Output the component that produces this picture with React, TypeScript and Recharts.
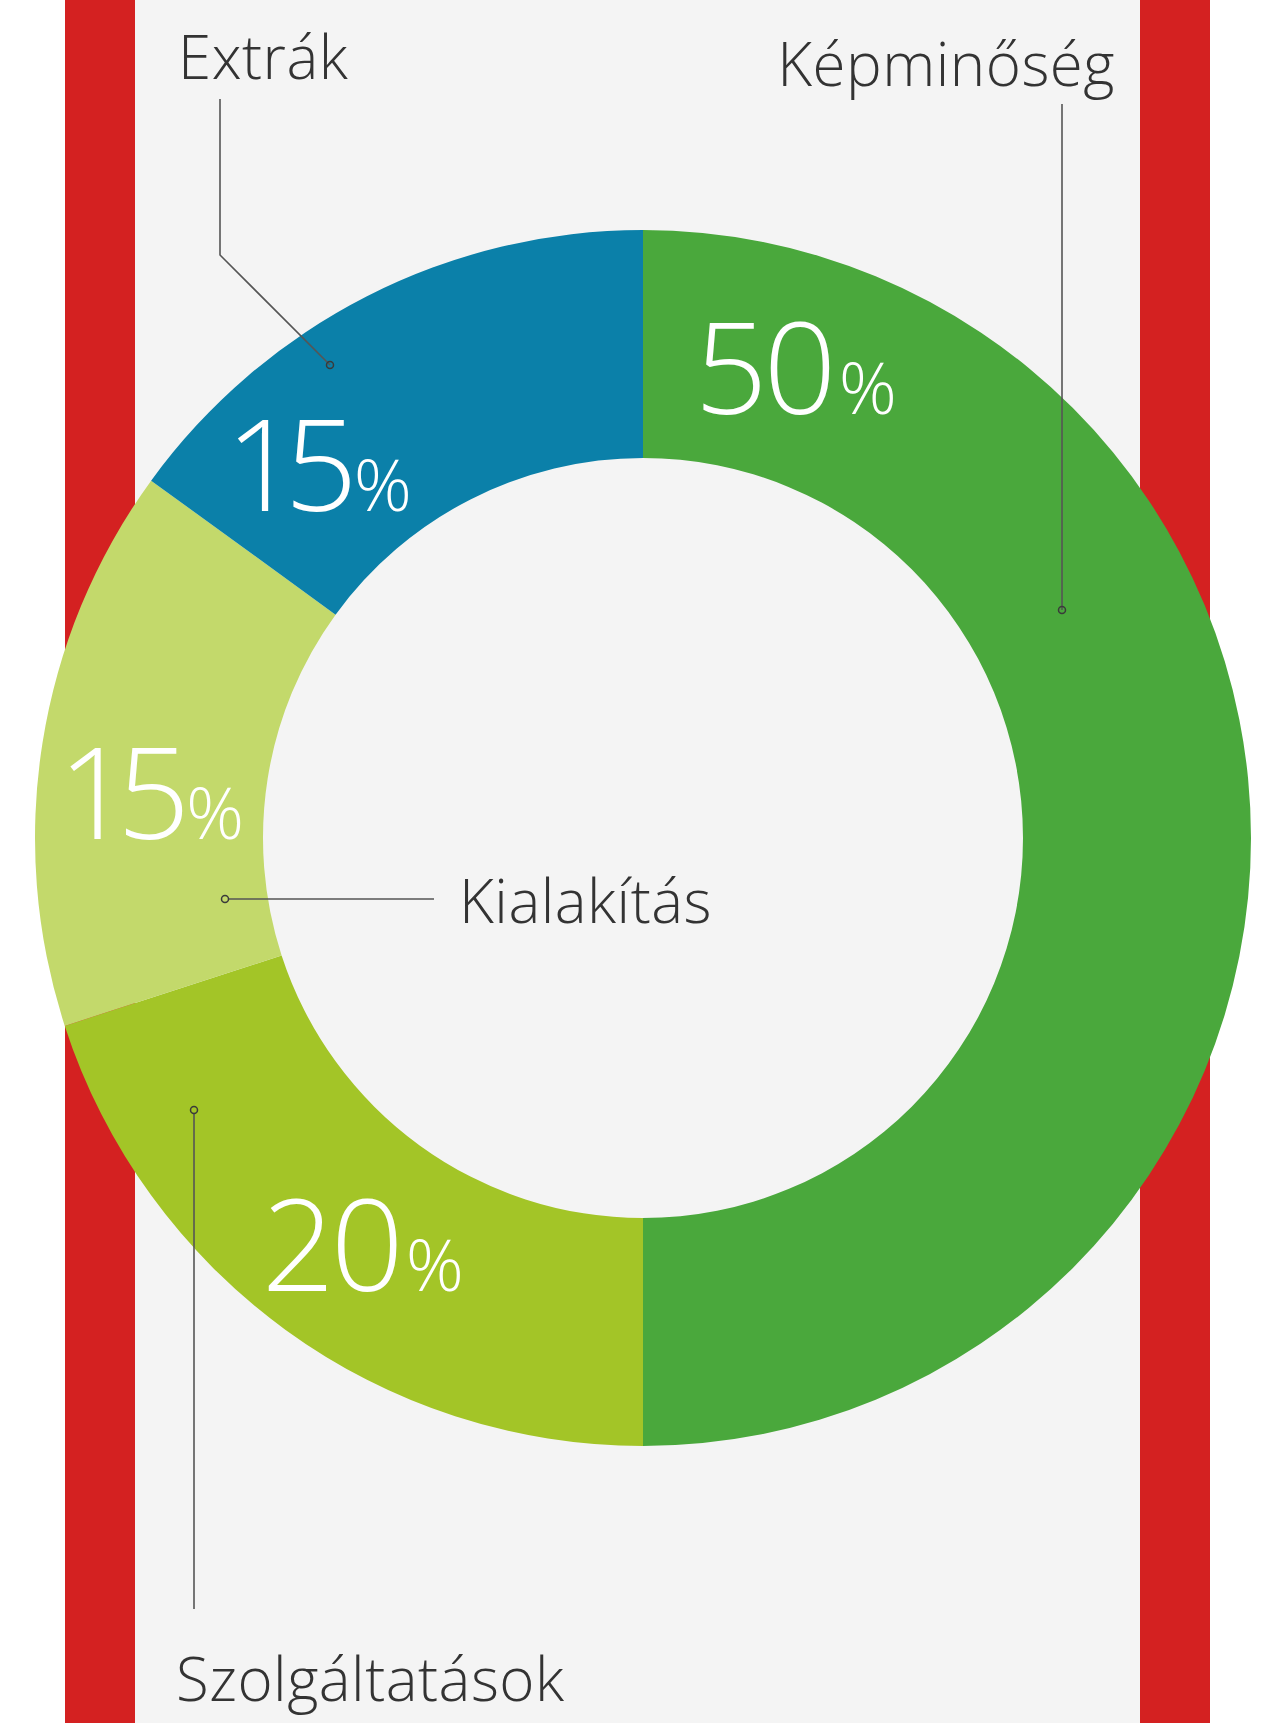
import { PieChart, Pie, Cell } from 'recharts'

// slices, clockwise from 12 o'clock
const categories = ['Képminőség', 'Szolgáltatások', 'Kialakítás', 'Extrák']
const shares = [50, 20, 15, 15]
const colors = ['#4aa83c', '#a3c527', '#c3d96b', '#0b80a9']

const data = categories.map((name, i) => ({ name, value: shares[i] }))

const W = 1270
const H = 1723
const CX = 643
const CY = 838
const R_OUT = 608
const R_IN = 380

// where along each slice the big percentage sits (0 = start, 1 = end)
const labelAt = [0.1, 0.48, 0.43, 0.24]

const RAD = Math.PI / 180
const FONT = '"Open Sans", "DejaVu Sans", sans-serif'

const renderPercent = (props: any) => {
  const { cx, cy, innerRadius, outerRadius, startAngle, endAngle, index, value } = props
  const a = startAngle + (endAngle - startAngle) * labelAt[index]
  const r = (innerRadius + outerRadius) / 2
  const x = cx + r * Math.cos(a * RAD)
  const y = cy - r * Math.sin(a * RAD)
  const narrow = String(value).startsWith('1')
  return (
    <text
      x={x}
      y={y + 46}
      textAnchor="middle"
      fill="#ffffff"
      fontFamily={FONT}
      fontWeight={300}
    >
      <tspan fontSize={128} letterSpacing={narrow ? -14 : -4}>{value}</tspan>
      <tspan fontSize={72} dx={narrow ? 10 : 6}>%</tspan>
    </text>
  )
}

const Dot = ({ x, y }: { x: number; y: number }) => (
  <circle cx={x} cy={y} r={3.5} fill="none" stroke="#3a3a3a" strokeWidth={1.5} />
)

const Callouts = () => {
  const line = { fill: 'none', stroke: '#555', strokeWidth: 1.6 }
  const txt = { fontFamily: FONT, fontWeight: 300, fontSize: 60, letterSpacing: 0.5, fill: '#333' }
  return (
    <svg width={W} height={H} style={{ position: 'absolute', left: 0, top: 0 }}>
      <text x={178} y={79} {...txt}>{categories[3]}</text>
      <polyline points="220,99 220,255 330,365" {...line} />
      <Dot x={330} y={365} />

      <text x={1115} y={86} textAnchor="end" {...txt}>{categories[0]}</text>
      <polyline points="1062,104 1062,610" {...line} />
      <Dot x={1062} y={610} />

      <text x={459} y={923} {...txt}>{categories[2]}</text>
      <polyline points="434,899 229,899" {...line} />
      <Dot x={225} y={899} />

      <text x={176} y={1701} {...txt}>{categories[1]}</text>
      <polyline points="194,1609 194,1114" {...line} />
      <Dot x={194} y={1110} />
    </svg>
  )
}

export default function App() {
  return (
    <div style={{ position: 'relative', width: W, height: H, background: '#ffffff', overflow: 'hidden' }}>
      <style>{'body{margin:0}'}</style>
      <div style={{ position: 'absolute', left: 65, top: 0, width: 1145, height: H, background: '#f4f4f4' }} />
      <div style={{ position: 'absolute', left: 65, top: 0, width: 70, height: H, background: '#d42121' }} />
      <div style={{ position: 'absolute', left: 1140, top: 0, width: 70, height: H, background: '#d42121' }} />
      <div style={{ position: 'absolute', left: 0, top: 0 }}>
        <PieChart width={W} height={H} margin={{ top: 0, right: 0, bottom: 0, left: 0 }}>
          <Pie
            data={data}
            dataKey="value"
            nameKey="name"
            cx={CX}
            cy={CY}
            innerRadius={R_IN}
            outerRadius={R_OUT}
            startAngle={90}
            endAngle={-270}
            stroke="none"
            labelLine={false}
            label={renderPercent}
            isAnimationActive={false}
          >
            {data.map((d, i) => (
              <Cell key={d.name} fill={colors[i]} />
            ))}
          </Pie>
        </PieChart>
      </div>
      <Callouts />
    </div>
  )
}
